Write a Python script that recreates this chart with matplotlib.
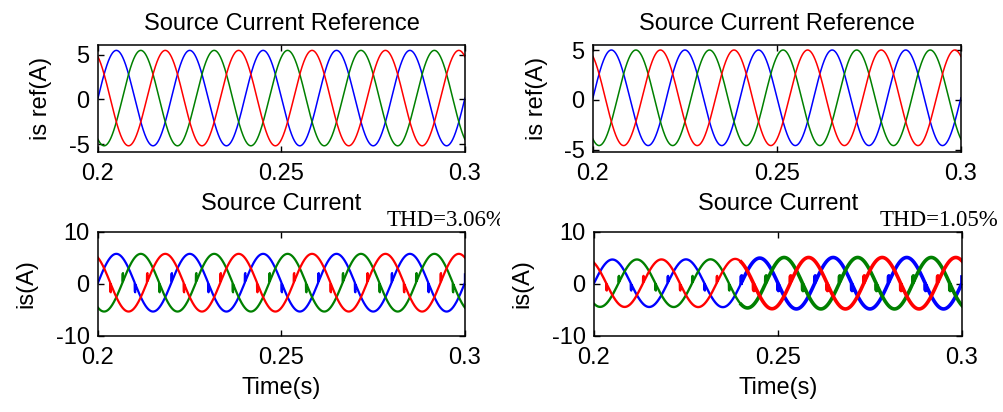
import numpy as np
import matplotlib
matplotlib.use('Agg')
import matplotlib.pyplot as plt
from matplotlib.transforms import Bbox, TransformedBbox

## time window and supply frequency
t_start = 0.2
t_end = 0.3
freq = 50
phase_colors = ['#0000ff', '#008000', '#ff0000']
phase_shift_deg = [0, -120, 120]

## peak values (A) and small dc offset
ref_amp_left = 5.35
ref_offset_left = 0.15
ref_amp_right = 4.8
ref_offset_right = 0.2
src_amp_left = 5.55
src_offset_left = 0.25
## right source current grows a little after ~0.24 s
src_env_time_right = [0.2, 0.235, 0.25, 0.3]
src_env_amp_right = [4.55, 4.6, 4.95, 4.95]
src_offset_right = 0.15
thick_from_right = 0.24

## notch spikes seen at the zero crossings of the source current
spike_height_left = 1.6
spike_height_right = 1.2
spike_width = 0.00015

x_ticks = [0.2, 0.25, 0.3]
x_tick_labels = ['0.2', '0.25', '0.3']
ref_y_ticks = [-5, 0, 5]
src_y_ticks = [-10, 0, 10]
ref_ylims = [(-5.9, 6.1), (-5.25, 5.5)]
src_ylim = (-10, 10)
thd_labels = ['THD=3.06%', 'THD=1.05%']

plt.rcParams['font.family'] = ['Liberation Sans', 'DejaVu Sans']
plt.rcParams['font.size'] = 17

t = np.linspace(t_start, t_end, 20001)


def sine(amp, shift):
    return amp * np.sin(2 * np.pi * freq * t + np.radians(shift))


def add_spikes(y, clean, height):
    s = np.sign(clean)
    idx = np.where(np.diff(s) != 0)[0] + 1
    n = max(int(spike_width / (t[1] - t[0])), 1)
    for i in idx:
        y[i:i + n] += s[i] * height
    return y


def style_axes(ax, yticks, ylim):
    ax.set_xlim(t_start, t_end)
    ax.set_ylim(*ylim)
    ax.set_xticks(x_ticks)
    ax.set_xticklabels(x_tick_labels)
    ax.set_yticks(yticks)
    ax.set_yticklabels([str(v) for v in yticks])
    ax.tick_params(direction='in', top=True, right=True, length=4, width=1)
    ax.tick_params(axis='x', pad=8)
    ax.tick_params(axis='y', pad=6)
    for sp in ax.spines.values():
        sp.set_linewidth(1.1)


fig = plt.figure(figsize=(10.04, 4.12), dpi=100)
ax_tl = fig.add_axes([0.0976, 0.631, 0.3655, 0.2597])
ax_tr = fig.add_axes([0.5906, 0.631, 0.3665, 0.2597])
ax_bl = fig.add_axes([0.0976, 0.1845, 0.3655, 0.2524])
ax_br = fig.add_axes([0.5916, 0.1845, 0.3665, 0.2524])

## reference currents
for ax, amp, off, ylim in [(ax_tl, ref_amp_left, ref_offset_left, ref_ylims[0]),
                           (ax_tr, ref_amp_right, ref_offset_right, ref_ylims[1])]:
    for c, sh in zip(phase_colors, phase_shift_deg):
        ax.plot(t, sine(amp, sh) + off, color=c, lw=1.1)
    style_axes(ax, ref_y_ticks, ylim)
    ax.set_title('Source Current Reference', fontsize=17, pad=11)
    ax.set_ylabel('is ref(A)')
ax_tl.yaxis.set_label_coords(-0.125, 0.5)
ax_tr.yaxis.set_label_coords(-0.122, 0.5)

## source current, left
for c, sh in zip(phase_colors, phase_shift_deg):
    clean = sine(1.0, sh)
    y = add_spikes(src_amp_left * clean + src_offset_left, clean, spike_height_left)
    ax_bl.plot(t, y, color=c, lw=1.6)

## source current, right
env = np.interp(t, src_env_time_right, src_env_amp_right)
thin = t <= thick_from_right
thick = t >= thick_from_right
for c, sh in zip(phase_colors, phase_shift_deg):
    clean = sine(1.0, sh)
    y = add_spikes(env * clean + src_offset_right, clean, spike_height_right)
    ax_br.plot(t[thin], y[thin], color=c, lw=1.7)
    ax_br.plot(t[thick], y[thick], color=c, lw=2.6)

for ax in [ax_bl, ax_br]:
    style_axes(ax, src_y_ticks, src_ylim)
    ax.set_title('Source Current', fontsize=17, pad=16)
    ax.set_ylabel('is(A)')
    ax.set_xlabel('Time(s)', labelpad=6)
ax_bl.yaxis.set_label_coords(-0.166, 0.5)
ax_br.yaxis.set_label_coords(-0.166, 0.5)

## THD annotations (serif, as in the original)
thd_l = fig.text(387 / 1004, 1 - 226 / 412, thd_labels[0], family='Liberation Serif',
                 fontsize=16.5, ha='left', va='baseline')
thd_l.set_clip_box(TransformedBbox(Bbox([[0, 0], [0.4985, 1]]), fig.transFigure))
thd_l.set_clip_on(True)
fig.text(880 / 1004, 1 - 226 / 412, thd_labels[1], family='Liberation Serif',
         fontsize=16.5, ha='left', va='baseline')

fig.savefig('out.png', dpi=100)
